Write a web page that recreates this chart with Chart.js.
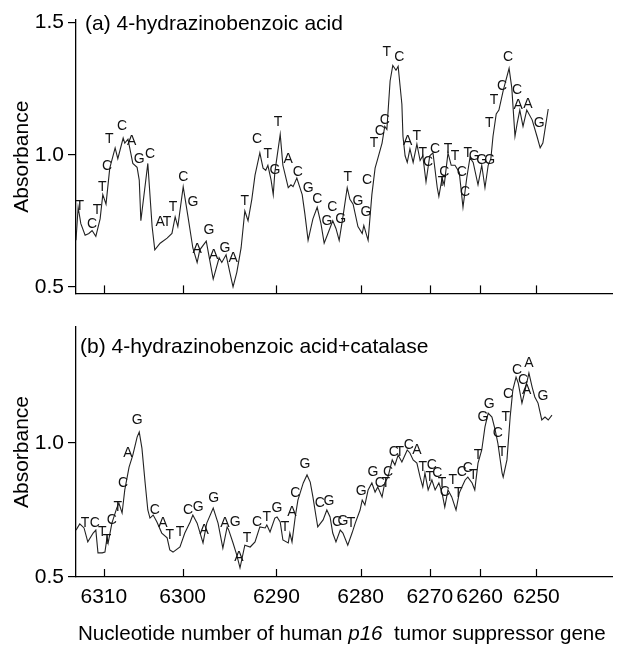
<!DOCTYPE html>
<html>
<head>
<meta charset="utf-8">
<script src="https://cdn.jsdelivr.net/npm/chart.js@4.4.1/dist/chart.umd.min.js"></script>
<style>
  body { margin: 0; background: #fff; }
  #wrap { position: relative; width: 619px; height: 645px; }
  #topChart { position: absolute; left: 0; top: 0; }
  #bottomChart { position: absolute; left: 0; top: 310px; }
  #xTitle {
    position: absolute; left: 78px; top: 620px; white-space: nowrap;
    font: 20.6px "Liberation Sans", Arial, sans-serif; color: #000; line-height: 25px;
  }
</style>
</head>
<body>
<div id="wrap">
  <canvas id="topChart" width="619" height="310"></canvas>
  <canvas id="bottomChart" width="619" height="335"></canvas>
  <div id="xTitle">Nucleotide number of human <i>p16</i>&nbsp; tumor suppressor gene</div>
</div>
<script>
// scan position (0-100 along the gel) where each nucleotide number falls
const tickPos = [5.2, 19.9, 37.4, 53.1, 66.0, 75.3, 85.9];
const tickLabels = ['6310', '6300', '6290', '6280', '6270', '6260', '6250'];

// (a) 4-hydrazinobenzoic acid
const topPos = [
    0, 0.4, 0.9, 1.7, 2.4, 3.0, 3.7, 4.5, 5.0, 5.6,
    6.3, 7.3, 7.8, 8.8, 9.1, 9.7, 10.6, 11.4, 11.8, 12.1,
    13.4, 14.2, 14.7, 15.7, 17.0, 17.9, 18.5, 19.0, 20.0, 20.9,
    21.8, 22.6, 23.1, 24.3, 25.6, 26.7, 27.2, 28.0, 28.7, 29.3,
    30.0, 30.8, 31.5, 32.1, 32.8, 33.4, 34.3, 34.9, 35.4, 35.8,
    36.4, 36.8, 37.1, 38.1, 38.6, 39.6, 40.1, 40.5, 41.2, 42.2,
    42.7, 43.3, 44.2, 45.0, 45.7, 46.3, 47.0, 47.9, 48.5, 49.1,
    49.8, 50.6, 51.1, 51.7, 52.6, 53.4, 53.7, 54.5, 55.2, 55.8,
    56.3, 57.1, 57.6, 58.0, 58.6, 59.1, 59.7, 60.1, 60.8, 61.0,
    61.4, 61.8, 62.3, 62.9, 63.6, 64.2, 64.7, 65.3, 66.0, 66.6,
    67.4, 67.7, 68.3, 68.7, 69.4, 70.0, 70.7, 71.5, 72.2, 72.9,
    73.5, 74.1, 75.0, 75.7, 76.3, 76.9, 77.4, 77.8, 78.4, 78.9,
    79.7, 80.8, 81.3, 81.9, 82.3, 82.8, 83.4, 84.1, 85.1, 86.0,
    86.6, 87.1, 88.1
];
const topAbs = [
    0.676, 0.801, 0.739, 0.695, 0.702, 0.713, 0.691, 0.757, 0.849, 0.813,
    0.949, 1.026, 0.985, 1.063, 1.044, 1.059, 0.967, 0.952, 0.904, 0.750,
    0.967, 0.728, 0.640, 0.665, 0.684, 0.702, 0.765, 0.728, 0.879, 0.765,
    0.647, 0.592, 0.640, 0.673, 0.529, 0.610, 0.592, 0.621, 0.555, 0.500,
    0.555, 0.647, 0.787, 0.750, 0.831, 0.923, 1.007, 0.949, 0.941, 0.960,
    0.904, 0.849, 0.934, 1.077, 0.960, 0.875, 0.886, 0.879, 0.912, 0.849,
    0.776, 0.676, 0.757, 0.801, 0.739, 0.665, 0.702, 0.750, 0.721, 0.676,
    0.765, 0.875, 0.831, 0.813, 0.728, 0.702, 0.732, 0.676, 0.849, 0.949,
    0.985, 1.044, 1.107, 1.096, 1.279, 1.338, 1.320, 1.335, 1.191, 1.070,
    0.996, 0.971, 1.022, 0.971, 1.040, 0.978, 0.996, 0.897, 0.996, 1.007,
    0.875, 0.842, 0.912, 0.886, 1.007, 0.960, 0.960, 0.934, 0.801, 0.912,
    0.989, 0.971, 0.886, 0.960, 0.875, 0.960, 0.985, 1.070, 1.154, 1.169,
    1.243, 1.327, 1.254, 1.070, 1.118, 1.169, 1.107, 1.169, 1.132, 1.070,
    1.026, 1.044, 1.173
];
const topBases = [
    'T', 'C', 'T', 'T', 'C', 'T', 'C', 'A', 'G', 'C',
    'A', 'T', 'T', 'C', 'G', 'A', 'G', 'A', 'G', 'A',
    'T', 'C', 'T', 'G', 'T', 'A', 'C', 'G', 'C', 'G',
    'C', 'G', 'T', 'G', 'G', 'C', 'T', 'C', 'C', 'T',
    'C', 'A', 'T', 'T', 'C', 'C', 'T', 'C', 'T', 'T',
    'C', 'C', 'T', 'G', 'G', 'G', 'T', 'T', 'C', 'C',
    'C', 'A', 'A', 'G'
];
const topBasePos = [
    0.7, 3.0, 3.9, 4.9, 5.8, 6.2, 8.6, 10.4, 11.8, 13.8,
    15.7, 17.0, 18.1, 20.0, 21.8, 22.6, 24.8, 25.7, 27.8, 29.3,
    31.5, 33.8, 35.8, 37.1, 37.7, 39.6, 41.4, 43.3, 45.0, 46.8,
    47.8, 49.4, 50.7, 52.6, 54.1, 54.3, 55.6, 56.7, 57.6, 58.0,
    60.3, 61.9, 63.6, 64.7, 65.7, 67.0, 68.3, 68.7, 69.4, 70.7,
    72.0, 72.6, 73.1, 74.3, 75.7, 77.2, 77.1, 78.0, 79.5, 80.6,
    82.3, 82.5, 84.3, 86.4
];
const topBaseAbs = [
    0.805, 0.739, 0.790, 0.879, 0.956, 1.059, 1.107, 1.051, 0.985, 1.004,
    0.746, 0.746, 0.801, 0.915, 0.820, 0.643, 0.713, 0.618, 0.647, 0.610,
    0.824, 1.059, 1.004, 0.941, 1.125, 0.985, 0.934, 0.875, 0.831, 0.750,
    0.801, 0.757, 0.915, 0.824, 0.783, 0.904, 1.044, 1.088, 1.132, 1.390,
    1.371, 1.051, 1.070, 1.007, 0.971, 1.022, 0.897, 0.934, 1.022, 0.996,
    0.934, 0.860, 1.007, 0.996, 0.978, 0.978, 1.121, 1.206, 1.261, 1.371,
    1.246, 1.188, 1.191, 1.118
];

// (b) 4-hydrazinobenzoic acid + catalase
const botPos = [
    0.0, 0.7, 1.5, 2.2, 3.2, 3.7, 4.1, 4.9, 5.4, 5.8,
    6.0, 6.7, 7.6, 8.0, 8.6, 9.1, 9.9, 10.6, 11.4, 11.8,
    12.3, 12.9, 13.4, 13.8, 14.4, 15.1, 16.0, 17.0, 17.5, 18.1,
    19.4, 20.3, 21.3, 21.8, 22.6, 23.7, 24.4, 25.6, 26.5, 27.4,
    28.2, 28.5, 29.3, 30.0, 30.6, 31.5, 32.5, 33.4, 34.3, 35.3,
    35.6, 36.2, 37.1, 37.5, 38.1, 38.6, 39.6, 39.9, 40.3, 40.9,
    41.4, 42.4, 43.1, 43.7, 44.2, 44.8, 45.1, 46.1, 46.8, 47.4,
    47.9, 48.5, 49.3, 49.8, 50.7, 51.5, 52.1, 53.0, 53.4, 53.9,
    54.5, 55.2, 55.8, 56.3, 57.1, 57.6, 58.2, 59.0, 59.5, 60.1,
    60.8, 61.8, 62.3, 62.9, 63.6, 64.2, 64.7, 65.1, 65.7, 66.4,
    67.0, 67.7, 68.3, 68.8, 69.4, 70.1, 70.9, 71.5, 72.0, 72.6,
    73.1, 73.9, 74.4, 75.0, 75.7, 76.3, 76.9, 77.6, 78.2, 78.7,
    79.5, 79.7, 80.4, 81.0, 81.5, 82.1, 82.5, 83.2, 83.8, 84.5,
    85.1, 85.6, 86.2, 86.9, 87.5, 88.1, 88.8
];
const botAbs = [
    0.675, 0.698, 0.683, 0.631, 0.664, 0.675, 0.590, 0.590, 0.593, 0.649,
    0.627, 0.701, 0.757, 0.776, 0.739, 0.825, 0.910, 0.955, 1.022, 1.041,
    0.981, 0.851, 0.750, 0.720, 0.731, 0.705, 0.664, 0.646, 0.601, 0.593,
    0.612, 0.664, 0.705, 0.731, 0.701, 0.627, 0.701, 0.757, 0.701, 0.608,
    0.687, 0.675, 0.627, 0.582, 0.534, 0.619, 0.612, 0.631, 0.687, 0.683,
    0.694, 0.668, 0.720, 0.724, 0.705, 0.638, 0.627, 0.664, 0.631, 0.724,
    0.787, 0.851, 0.881, 0.854, 0.799, 0.724, 0.687, 0.713, 0.750, 0.724,
    0.664, 0.631, 0.675, 0.664, 0.619, 0.664, 0.701, 0.750, 0.787, 0.769,
    0.825, 0.851, 0.817, 0.836, 0.799, 0.851, 0.873, 0.937, 0.918, 0.955,
    0.929, 0.974, 0.963, 0.937, 0.925, 0.873, 0.836, 0.888, 0.825, 0.862,
    0.825, 0.851, 0.813, 0.761, 0.825, 0.799, 0.750, 0.813, 0.836, 0.862,
    0.873, 0.851, 0.825, 0.925, 0.974, 1.060, 1.112, 1.097, 1.049, 1.000,
    0.888, 0.873, 0.937, 1.097, 1.198, 1.246, 1.224, 1.149, 1.198, 1.261,
    1.209, 1.172, 1.149, 1.086, 1.097, 1.086, 1.104
];
const botBases = [
    'T', 'C', 'T', 'T', 'C', 'T', 'C', 'A', 'G', 'C',
    'A', 'T', 'T', 'C', 'G', 'A', 'G', 'A', 'G', 'A',
    'T', 'C', 'T', 'G', 'T', 'A', 'C', 'G', 'C', 'G',
    'C', 'G', 'T', 'G', 'G', 'C', 'T', 'C', 'C', 'T',
    'C', 'A', 'T', 'C', 'T', 'C', 'T', 'C', 'T', 'T',
    'C', 'C', 'T', 'T', 'G', 'G', 'C', 'T', 'T', 'C',
    'C', 'C', 'A', 'A', 'G'
];
const botBasePos = [
    1.7, 3.5, 4.9, 5.8, 6.7, 7.8, 8.8, 9.7, 11.4, 14.7,
    16.2, 17.5, 19.4, 20.9, 22.8, 23.9, 25.7, 27.8, 29.7, 30.4,
    31.9, 33.8, 35.6, 37.5, 39.0, 40.3, 40.9, 42.7, 45.5, 47.2,
    48.7, 49.8, 51.3, 53.2, 55.4, 56.7, 57.8, 58.2, 59.3, 60.4,
    62.1, 63.6, 64.7, 66.4, 66.0, 67.4, 68.3, 68.8, 70.3, 71.3,
    72.0, 73.1, 74.1, 75.0, 75.9, 77.1, 78.7, 79.5, 80.2, 80.6,
    82.3, 83.4, 84.1, 84.5, 87.1
];
const botBaseAbs = [
    0.701, 0.701, 0.668, 0.638, 0.713, 0.761, 0.851, 0.963, 1.086, 0.750,
    0.701, 0.657, 0.668, 0.750, 0.761, 0.675, 0.795, 0.701, 0.705, 0.575,
    0.646, 0.705, 0.724, 0.757, 0.687, 0.743, 0.813, 0.922, 0.776, 0.784,
    0.705, 0.709, 0.701, 0.821, 0.892, 0.851, 0.851, 0.892, 0.966, 0.966,
    0.993, 0.974, 0.910, 0.918, 0.873, 0.888, 0.851, 0.817, 0.862, 0.813,
    0.892, 0.907, 0.881, 0.955, 1.097, 1.146, 1.037, 0.966, 1.097, 1.183,
    1.272, 1.235, 1.198, 1.299, 1.175
];

const FONT = '"Liberation Sans", Arial, Helvetica, sans-serif';
Chart.defaults.font.family = FONT;
Chart.defaults.color = '#000';

// inward x ticks, base letters and the panel caption
function panelDecor(title, dx, dy, bases, basePos, baseAbs) {
    return {
        id: 'panelDecor',
        afterDraw(chart) {
            const ctx = chart.ctx, xs = chart.scales.x, ys = chart.scales.y, area = chart.chartArea;
            ctx.save();
            ctx.strokeStyle = '#000';
            ctx.lineWidth = 1.2;
            tickPos.forEach(v => {
                const px = Math.round(xs.getPixelForValue(v)) + 0.5;
                ctx.beginPath();
                ctx.moveTo(px, area.bottom);
                ctx.lineTo(px, area.bottom - 8);
                ctx.stroke();
            });
            ctx.fillStyle = '#111';
            ctx.font = '14px ' + FONT;
            ctx.textAlign = 'center';
            ctx.textBaseline = 'middle';
            bases.forEach((b, i) => {
                ctx.fillText(b, xs.getPixelForValue(basePos[i]), ys.getPixelForValue(baseAbs[i]));
            });
            ctx.fillStyle = '#000';
            ctx.font = '21px ' + FONT;
            ctx.textAlign = 'left';
            ctx.textBaseline = 'alphabetic';
            ctx.fillText(title, area.left + dx, area.top + dy);
            ctx.restore();
        }
    };
}

function makePanel(canvasId, pos, abs, yMin, yMax, yTicks, showX, padding, plugin) {
    const ctx = document.getElementById(canvasId).getContext('2d');
    return new Chart(ctx, {
        type: 'line',
        data: {
            datasets: [{
                data: pos.map((x, i) => ({ x: x, y: abs[i] })),
                borderColor: '#222',
                borderWidth: 1.1,
                pointRadius: 0,
                tension: 0,
                fill: false
            }]
        },
        options: {
            responsive: false,
            animation: false,
            layout: { padding: padding },
            plugins: { legend: { display: false }, tooltip: { enabled: false } },
            scales: {
                x: {
                    type: 'linear',
                    min: 0,
                    max: 100,
                    afterBuildTicks: s => { s.ticks = tickPos.map(v => ({ value: v })); },
                    afterFit: s => { s.height = showX ? 68 : 0; },
                    ticks: {
                        display: showX,
                        autoSkip: false,
                        maxRotation: 0,
                        padding: 8,
                        font: { size: 21 },
                        callback: v => tickLabels[tickPos.indexOf(v)]
                    },
                    grid: { drawOnChartArea: false, drawTicks: false },
                    border: { color: '#000', width: 1.3 }
                },
                y: {
                    min: yMin,
                    max: yMax,
                    afterBuildTicks: s => { s.ticks = yTicks.map(v => ({ value: v })); },
                    afterFit: s => { s.width = 76; },
                    ticks: {
                        padding: 4,
                        font: { size: 21 },
                        callback: v => v.toFixed(1)
                    },
                    grid: { drawOnChartArea: false, tickLength: 8, color: '#000', lineWidth: 1.2 },
                    border: { color: '#000', width: 1.3 },
                    title: {
                        display: true,
                        text: 'Absorbance',
                        font: { size: 21 },
                        padding: { top: 10, bottom: 0 }
                    }
                }
            }
        },
        plugins: [plugin]
    });
}

makePanel('topChart', topPos, topAbs, 0.475, 1.51, [0.5, 1.0, 1.5], false,
    { top: 20, right: 7, bottom: 8, left: 0 },
    panelDecor('(a) 4-hydrazinobenzoic acid', 9, 10, topBases, topBasePos, topBaseAbs));

makePanel('bottomChart', botPos, botAbs, 0.5, 1.433, [0.5, 1.0], true,
    { top: 17, right: 7, bottom: 0, left: 0 },
    panelDecor('(b) 4-hydrazinobenzoic acid+catalase', 4, 26, botBases, botBasePos, botBaseAbs));
</script>
</body>
</html>
